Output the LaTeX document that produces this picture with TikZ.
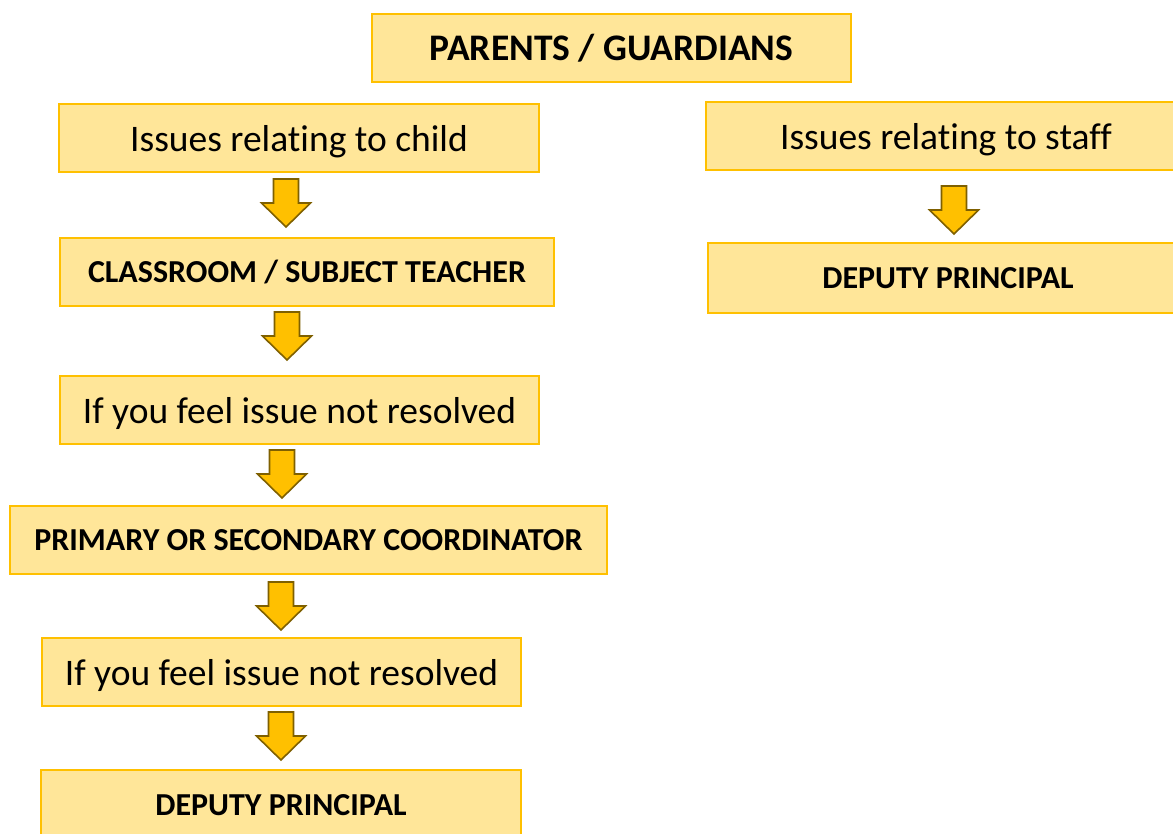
\documentclass[tikz,border=0pt]{standalone}
\usepackage{fontspec}
\setmainfont{Carlito}[Ligatures=NoCommon]
\usetikzlibrary{calc}
\definecolor{boxfill}{HTML}{FFE699}
\definecolor{boxline}{HTML}{FFC000}
\definecolor{arrowfill}{HTML}{FFC000}
\definecolor{arrowline}{HTML}{7F6000}
\tikzset{
  stepbox/.style={draw=boxline, fill=boxfill, line width=2.4pt, minimum height=68pt,
    inner sep=0pt, text=black},
  plainlabel/.style={font=\fontsize{37.5}{44}\selectfont, text depth=0pt},
  boldlabel/.style={font=\fontsize{32}{38}\selectfont\bfseries},
  toplabel/.style={font=\fontsize{37.5}{44}\selectfont\bfseries},
  blockarrow/.style={draw=arrowline, fill=arrowfill, line width=1.6pt, line join=miter},
}
% down-pointing block arrow whose top edge is centred on coordinate #1
\newcommand\downblock[1]{%
  \draw[blockarrow, shift={(#1)}] (-12.5,0) -- (12.5,0) -- (12.5,24) -- (24.5,24)
    -- (0,48) -- (-24.5,24) -- (-12.5,24) -- cycle;}
\begin{document}
\begin{tikzpicture}[x=1pt, y=-1pt]
\clip (0,0) rectangle (1173,833);
\fill[white] (0,0) rectangle (1173,833);

\node[stepbox, toplabel, minimum width=479pt] (parents) at (611.5,48) {PARENTS / GUARDIANS};

% left column: issues relating to the child
\node[stepbox, plainlabel, minimum width=480pt] (child) at (299,138) {Issues relating to child};
\node[stepbox, boldlabel, minimum width=494pt] (teacher) at (307,272) {CLASSROOM / SUBJECT TEACHER};
\node[stepbox, plainlabel, minimum width=479pt] (unresolvedA) at (299.5,410) {If you feel issue not resolved};
\node[stepbox, boldlabel, minimum width=597pt] (coordinator) at (308.5,540) {PRIMARY OR SECONDARY COORDINATOR};
\node[stepbox, plainlabel, minimum width=479pt] (unresolvedB) at (281.5,672) {If you feel issue not resolved};
\node[stepbox, boldlabel, minimum width=480pt, minimum height=72pt, text depth=0pt] (deputyA) at (281,806) {\raisebox{2pt}{DEPUTY PRINCIPAL}};

% right column: issues relating to staff
\node[stepbox, plainlabel, minimum width=480pt] (staff) at (946,136) {Issues relating to staff};
\node[stepbox, boldlabel, minimum width=480pt, minimum height=70pt] (deputyB) at (948,278) {DEPUTY PRINCIPAL};

% arrow anchors between consecutive steps
\coordinate (arrA) at (286,179);
\coordinate (arrB) at (287,312);
\coordinate (arrC) at (282,450);
\coordinate (arrD) at (281,582);
\coordinate (arrE) at (281,712);
\coordinate (arrF) at (954,186);

\downblock{arrA}
\downblock{arrB}
\downblock{arrC}
\downblock{arrD}
\downblock{arrE}
\downblock{arrF}
\end{tikzpicture}
\end{document}
